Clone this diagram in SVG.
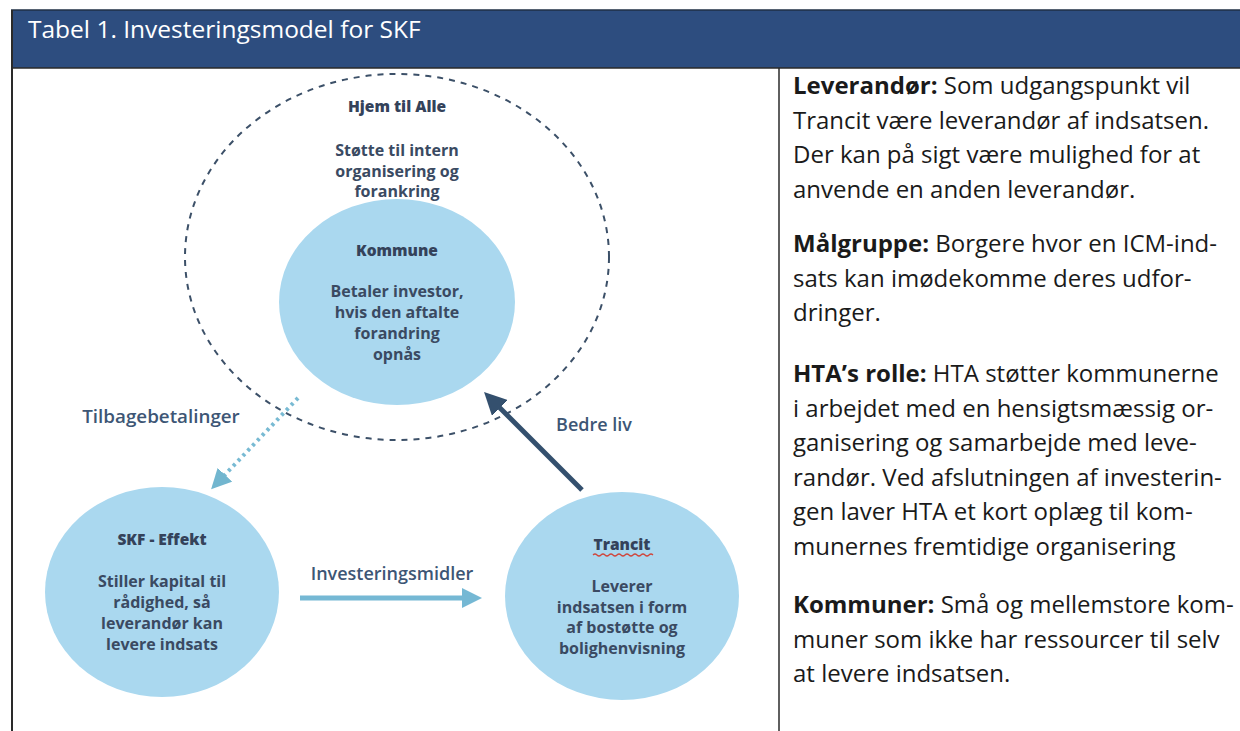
<svg xmlns="http://www.w3.org/2000/svg" width="1240" height="731" viewBox="0 0 1240 731">
<style>
.hdr{font-family:"Open Sans",Lato,sans-serif;font-size:24.5px;fill:#ffffff}
.lbl{font-family:"Open Sans",Lato,sans-serif;font-size:16px;fill:#3a4a62;text-anchor:middle;font-weight:700}
.ttl{font-family:"Open Sans",Lato,sans-serif;font-size:15.5px;fill:#34425a;text-anchor:middle;font-weight:800}
.edge{font-family:"Open Sans",Lato,sans-serif;font-size:18px;fill:#3d5675;text-anchor:middle;font-weight:600}
.side{font-family:"Open Sans",Lato,sans-serif;font-size:24px;fill:#1a1a1a}
.side .b{font-weight:700}
.bubble{fill:#aad8ef}
</style>
<defs>
<marker id="ahLight" viewBox="0 0 10 10" refX="5" refY="5" markerWidth="4" markerHeight="4" orient="auto"><path d="M0,0 L10,5 L0,10 z" fill="#75b8d4"/></marker>
<marker id="ahDark" viewBox="0 0 10 10" refX="5" refY="5" markerWidth="4.5" markerHeight="4.5" orient="auto"><path d="M0,0 L10,5 L0,10 z" fill="#34506e"/></marker>
<marker id="ahDot" viewBox="0 0 10 10" refX="5" refY="5" markerWidth="5" markerHeight="5" orient="auto"><path d="M0,0 L10,5 L0,10 z" fill="#72b6cf"/></marker>
</defs>
<rect width="1240" height="731" fill="#ffffff"/>
<g id="frame">
<rect x="11" y="10" width="1229" height="58" fill="#2d4d7f"/>
<line x1="11" y1="10" x2="1240" y2="10" stroke="#1f2f45" stroke-width="1.5"/>
<line x1="11" y1="68" x2="1240" y2="68" stroke="#2a2a2a" stroke-width="1.5"/>
<line x1="12" y1="10" x2="12" y2="731" stroke="#2a2a2a" stroke-width="2"/>
<line x1="779" y1="68" x2="779" y2="731" stroke="#2a2a2a" stroke-width="1.5"/>
<text class="hdr" x="28" y="38">Tabel 1. Investeringsmodel for SKF</text>
</g>
<g id="hjem-til-alle">
<ellipse cx="397" cy="257" rx="212" ry="183" fill="none" stroke="#3c5068" stroke-width="2" stroke-dasharray="6 6"/>
<text class="ttl" x="397" y="112">Hjem til Alle</text>
<text class="lbl" x="397" y="156">Støtte til intern</text>
<text class="lbl" x="397" y="177">organisering og</text>
<text class="lbl" x="397" y="197">forankring</text>
</g>
<g id="kommune">
<ellipse class="bubble" cx="397" cy="302" rx="118" ry="103"/>
<text class="ttl" x="397" y="256">Kommune</text>
<text class="lbl" x="397" y="297">Betaler investor,</text>
<text class="lbl" x="397" y="318">hvis den aftalte</text>
<text class="lbl" x="397" y="339">forandring</text>
<text class="lbl" x="397" y="360">opnås</text>
</g>
<g id="skf-effekt">
<ellipse class="bubble" cx="162" cy="592" rx="117" ry="105"/>
<text class="ttl" x="162" y="545">SKF - Effekt</text>
<text class="lbl" x="162" y="587">Stiller kapital til</text>
<text class="lbl" x="162" y="608">rådighed, så</text>
<text class="lbl" x="162" y="629">leverandør kan</text>
<text class="lbl" x="162" y="650">levere indsats</text>
</g>
<g id="trancit">
<ellipse class="bubble" cx="622" cy="596" rx="117" ry="104"/>
<text class="ttl" x="622" y="550">Trancit</text>
<path d="M593,555 q2,-2 4,0 t4,0 t4,0 t4,0 t4,0 t4,0 t4,0 t4,0 t4,0 t4,0 t4,0 t4,0 t4,0 t4,0 t4,0" fill="none" stroke="#d0463c" stroke-width="1.2"/>
<text class="lbl" x="622" y="592">Leverer</text>
<text class="lbl" x="622" y="613">indsatsen i form</text>
<text class="lbl" x="622" y="633">af bostøtte og</text>
<text class="lbl" x="622" y="654">bolighenvisning</text>
</g>
<g id="connectors">
<line x1="298" y1="398" x2="218" y2="482" stroke="#78bad3" stroke-width="4" stroke-dasharray="3 4" marker-end="url(#ahDot)"/>
<line x1="582" y1="490" x2="492" y2="400" stroke="#34506e" stroke-width="5" marker-end="url(#ahDark)"/>
<line x1="300" y1="598" x2="472" y2="598" stroke="#75b8d4" stroke-width="5" marker-end="url(#ahLight)"/>
<text class="edge" x="161" y="423" style="font-size:18.8px">Tilbagebetalinger</text>
<text class="edge" x="594" y="431">Bedre liv</text>
<text class="edge" x="392" y="580">Investeringsmidler</text>
</g>
<g id="side-text">
<text class="side" x="793" y="94"><tspan class="b">Leverandør:</tspan> Som udgangspunkt vil</text>
<text class="side" x="793" y="128.5">Trancit være leverandør af indsatsen.</text>
<text class="side" x="793" y="163">Der kan på sigt være mulighed for at</text>
<text class="side" x="793" y="197.5">anvende en anden leverandør.</text>
<text class="side" x="793" y="252"><tspan class="b">Målgruppe:</tspan> Borgere hvor en ICM-ind-</text>
<text class="side" x="793" y="286.5">sats kan imødekomme deres udfor-</text>
<text class="side" x="793" y="321">dringer.</text>
<text class="side" x="793" y="382"><tspan class="b">HTA’s rolle:</tspan> HTA støtter kommunerne</text>
<text class="side" x="793" y="416.5">i arbejdet med en hensigtsmæssig or-</text>
<text class="side" x="793" y="451">ganisering og samarbejde med leve-</text>
<text class="side" x="793" y="485.5">randør. Ved afslutningen af investerin-</text>
<text class="side" x="793" y="520">gen laver HTA et kort oplæg til kom-</text>
<text class="side" x="793" y="554.5">munernes fremtidige organisering</text>
<text class="side" x="793" y="613"><tspan class="b">Kommuner:</tspan> Små og mellemstore kom-</text>
<text class="side" x="793" y="647.5">muner som ikke har ressourcer til selv</text>
<text class="side" x="793" y="682">at levere indsatsen.</text>
</g>
</svg>
